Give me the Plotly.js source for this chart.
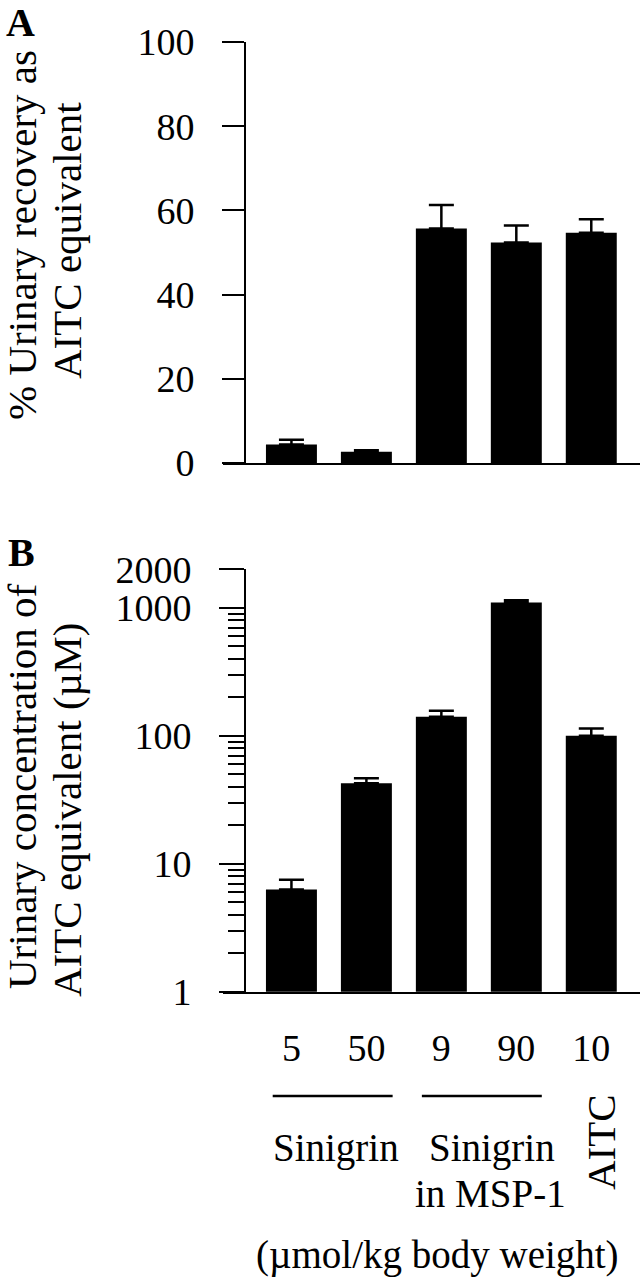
<!DOCTYPE html>
<html><head><meta charset="utf-8">
<script src="https://cdn.plot.ly/plotly-3.0.1.min.js"></script>
<style>html,body{margin:0;padding:0;background:#fff}</style>
</head><body><div id="chart" style="width:641px;height:1280px"></div>
<script>
// ---- data ----
const categories = ['5', '50', '9', '90', '10'];
const recoveryA = [4.4, 2.7, 55.7, 52.4, 54.7];
const recoveryErrA = [1.1, 0.3, 5.6, 4.0, 3.2];
const concB = [6.3, 42.5, 141, 1100, 100];
const concErrB = [1.2, 4.0, 16, 48, 14];
const yTicksA = [0, 20, 40, 60, 80, 100];
const yTicksB = [1, 10, 100, 1000, 2000];
const groupLabels = ['Sinigrin', 'Sinigrin', 'in MSP-1', 'AITC'];
const unitLabel = '(µmol/kg body weight)';
const titleA = ['% Urinary recovery as', 'AITC equivalent'];
const titleB = ['Urinary concentration of', 'AITC equivalent (µM)'];

// ---- helpers (pixel -> paper) ----
const W = 641, H = 1280;
const px = v => v / W;
const py = v => 1 - v / H;
const FAM = 'Liberation Serif, Times New Roman, serif';
const f = (size) => ({family: FAM, size: size, color: '#000'});
const TICKF = f(38), TXT = f(39), TTL = f(41), PANEL = f(40);

const errStyle = (arr) => ({type: 'data', symmetric: false, array: arr,
  arrayminus: arr.map(() => 0), color: '#000', thickness: 2.5, width: 12.5});

const traces = [
  {type: 'bar', x: categories, y: recoveryA, xaxis: 'x', yaxis: 'y',
   marker: {color: '#000', line: {width: 0}}, error_y: errStyle(recoveryErrA), hoverinfo: 'none'},
  {type: 'bar', x: categories, y: concB, xaxis: 'x2', yaxis: 'y2',
   marker: {color: '#000', line: {width: 0}}, error_y: errStyle(concErrB), hoverinfo: 'none'}
];

const xDomain = [px(223), px(640)];
const xRange = [-0.913, 4.65];

const ann = (text, x, y, font, angle) => ({text: text, xref: 'paper', yref: 'paper',
  x: px(x), y: py(y), showarrow: false, xanchor: 'center', yanchor: 'middle',
  textangle: angle || 0, font: font});

const layout = {
  width: W, height: H,
  margin: {l: 0, r: 0, t: 0, b: 0},
  paper_bgcolor: '#fff', plot_bgcolor: '#fff',
  showlegend: false,
  bargap: 0.32,
  font: TXT,
  xaxis: {type: 'category', domain: xDomain, range: xRange, anchor: 'y',
    showline: true, linecolor: '#000', linewidth: 2, ticks: '', showticklabels: false,
    showgrid: false, zeroline: false, fixedrange: true},
  yaxis: {domain: [py(463), py(42)], range: [0, 100], anchor: 'free', position: px(245),
    showline: true, linecolor: '#000', linewidth: 2, ticks: 'outside', ticklen: 22,
    tickwidth: 2, tickcolor: '#000', tickvals: yTicksA, ticktext: yTicksA.map(String),
    ticklabelstandoff: 20, showgrid: false, zeroline: false, tickfont: TICKF},
  xaxis2: {type: 'category', domain: xDomain, range: xRange, anchor: 'y2',
    showline: true, linecolor: '#000', linewidth: 2, ticks: '',
    tickvals: categories, ticktext: categories, ticklabelstandoff: 22,
    showgrid: false, zeroline: false, tickfont: TICKF},
  yaxis2: {type: 'log', domain: [py(991.7), py(569.3)], range: [0, Math.log10(2000)],
    anchor: 'free', position: px(245),
    showline: true, linecolor: '#000', linewidth: 2, ticks: 'outside', ticklen: 25,
    tickwidth: 2, tickcolor: '#000', tickvals: yTicksB, ticktext: yTicksB.map(String),
    ticklabelstandoff: 20, showgrid: false, zeroline: false, tickfont: TICKF,
    minor: {ticks: 'outside', ticklen: 16, tickwidth: 2, tickcolor: '#000', dtick: 'D1', showgrid: false}},
  shapes: [
    {type: 'line', xref: 'x2', yref: 'paper', x0: -0.25, x1: 1.35, y0: py(1096), y1: py(1096),
     line: {color: '#000', width: 2.5}},
    {type: 'line', xref: 'x2', yref: 'paper', x0: 1.74, x1: 3.34, y0: py(1096), y1: py(1096),
     line: {color: '#000', width: 2.5}}
  ],
  annotations: [
    ann('<b>A</b>', 20, 22, PANEL),
    ann('<b>B</b>', 21, 552, PANEL),
    ann(titleA[0], 22, 235, TTL, -90),
    ann(titleA[1], 67, 241, TTL, -90),
    ann(titleB[0], 22, 786, TTL, -90),
    ann(titleB[1], 67, 810, TTL, -90),
    ann(groupLabels[0], 336, 1148, TXT),
    ann(groupLabels[1], 492, 1148, TXT),
    ann(groupLabels[2], 490, 1193, TXT),
    ann(groupLabels[3], 601, 1142, f(41), -90),
    ann(unitLabel, 437, 1255, TXT)
  ]
};

Plotly.newPlot('chart', traces, layout, {staticPlot: true, displayModeBar: false});
</script>
</body></html>
